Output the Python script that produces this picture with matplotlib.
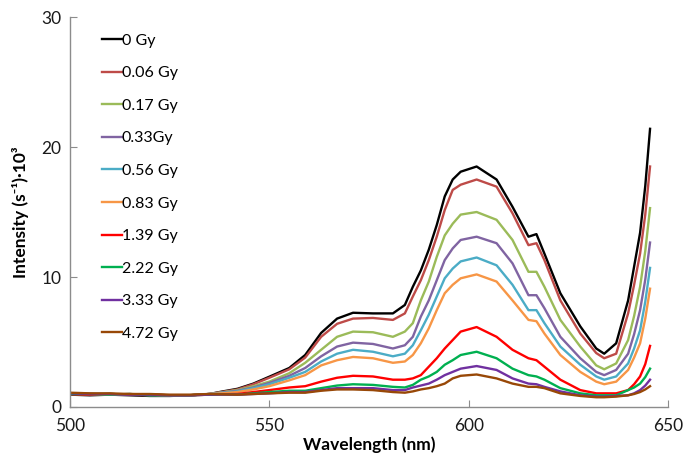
import matplotlib
matplotlib.use("Agg")
import matplotlib.pyplot as plt

plt.rcParams['font.family'] = ['Lato', 'DejaVu Sans']

wavelength = [500, 505, 510, 515, 520, 525, 530, 535, 538, 542, 546, 550, 555, 559, 563, 567, 571,
              576, 581, 584, 586, 588, 590, 592, 594, 596, 598, 602, 607, 611, 615, 617, 619, 623,
              628, 632, 634, 637, 640, 641.5, 643, 644.3, 645.5]

dose_labels = ['0 Gy', '0.06 Gy', '0.17 Gy', '0.33Gy', '0.56 Gy', '0.83 Gy',
               '1.39 Gy', '2.22 Gy', '3.33 Gy', '4.72 Gy']

i_0 = [0.95, 0.9, 0.95, 0.9, 0.85, 0.85, 0.9, 1.0, 1.18, 1.4, 1.8, 2.33, 3.0, 4.0, 5.7, 6.8, 7.25,
       7.2, 7.2, 7.85, 9.25, 10.5, 12.1, 14.0, 16.2, 17.5, 18.1, 18.5, 17.5, 15.4, 13.1, 13.3, 11.8, 8.75,
       6.2, 4.5, 4.1, 4.9, 8.2, 10.8, 13.4, 17.0, 21.4]
i_006 = [1.0, 0.95, 1.0, 0.95, 0.9, 0.9, 0.9, 1.0, 1.15, 1.35, 1.75, 2.25, 2.9, 3.8, 5.4, 6.4, 6.8,
         6.85, 6.7, 7.2, 8.5, 9.75, 11.3, 13.1, 15.15, 16.7, 17.1, 17.5, 16.95, 14.9, 12.45, 12.6, 11.3, 8.2,
         5.65, 4.15, 3.75, 4.1, 7.2, 9.4, 11.8, 14.8, 18.5]
i_017 = [1.05, 1.0, 1.0, 0.95, 0.95, 0.9, 0.9, 1.0, 1.12, 1.3, 1.6, 1.95, 2.6, 3.4, 4.4, 5.4, 5.8,
         5.75, 5.4, 5.8, 6.45, 8.2, 9.65, 11.55, 13.2, 14.1, 14.8, 15.0, 14.4, 12.85, 10.4, 10.4, 9.25, 6.7,
         4.65, 3.2, 2.9, 3.35, 5.15, 7.0, 9.25, 12.0, 15.3]
i_033 = [1.0, 1.0, 0.95, 1.0, 0.9, 0.9, 0.9, 1.0, 1.1, 1.25, 1.5, 1.85, 2.4, 3.0, 3.9, 4.65, 4.95,
         4.85, 4.5, 4.75, 5.4, 6.95, 8.2, 9.75, 11.3, 12.2, 12.85, 13.1, 12.6, 11.05, 8.6, 8.6, 7.6, 5.4,
         3.75, 2.7, 2.45, 2.85, 4.1, 5.6, 7.45, 9.8, 12.65]
i_056 = [1.05, 1.0, 1.0, 0.95, 0.95, 0.9, 0.9, 1.0, 1.08, 1.2, 1.45, 1.75, 2.25, 2.7, 3.5, 4.1, 4.4,
         4.25, 3.9, 4.1, 4.75, 5.9, 7.1, 8.5, 9.9, 10.65, 11.2, 11.5, 10.9, 9.4, 7.45, 7.45, 6.45, 4.65,
         3.25, 2.35, 2.1, 2.35, 3.35, 4.5, 5.9, 8.1, 10.7]
i_083 = [1.0, 1.0, 0.95, 1.0, 0.95, 0.9, 0.9, 1.0, 1.05, 1.15, 1.35, 1.6, 2.05, 2.45, 3.2, 3.6, 3.85,
         3.75, 3.4, 3.5, 4.0, 4.9, 6.05, 7.45, 8.75, 9.4, 9.9, 10.2, 9.65, 8.2, 6.7, 6.6, 5.65, 4.0,
         2.7, 1.95, 1.75, 1.95, 2.85, 3.8, 4.9, 6.8, 9.1]
i_139 = [1.0, 0.95, 1.0, 0.95, 0.95, 0.9, 0.9, 0.95, 0.98, 1.0, 1.15, 1.3, 1.5, 1.6, 1.95, 2.25, 2.4,
         2.35, 2.1, 2.1, 2.2, 2.45, 3.1, 3.75, 4.5, 5.15, 5.8, 6.15, 5.4, 4.4, 3.75, 3.6, 3.1, 2.1,
         1.3, 1.05, 1.05, 1.05, 1.3, 1.75, 2.35, 3.3, 4.7]
i_222 = [1.0, 1.0, 0.95, 1.0, 0.9, 0.9, 0.9, 0.95, 0.97, 0.95, 1.05, 1.15, 1.25, 1.25, 1.45, 1.65, 1.75,
         1.7, 1.55, 1.5, 1.7, 2.1, 2.35, 2.7, 3.25, 3.6, 4.0, 4.25, 3.75, 2.95, 2.45, 2.35, 2.1, 1.45,
         1.05, 0.9, 0.9, 0.9, 1.3, 1.5, 1.8, 2.3, 2.95]
i_333 = [1.05, 1.0, 1.0, 0.95, 0.95, 0.9, 0.9, 0.95, 0.96, 0.95, 1.0, 1.05, 1.15, 1.15, 1.3, 1.45, 1.45,
         1.45, 1.3, 1.3, 1.5, 1.65, 1.8, 2.1, 2.45, 2.7, 2.95, 3.15, 2.85, 2.2, 1.8, 1.75, 1.55, 1.2,
         0.9, 0.8, 0.8, 0.85, 0.9, 1.05, 1.3, 1.65, 2.1]
i_472 = [1.1, 1.05, 1.05, 1.0, 1.0, 0.95, 0.95, 1.0, 0.98, 0.95, 1.0, 1.05, 1.1, 1.1, 1.25, 1.35, 1.35,
         1.3, 1.15, 1.1, 1.2, 1.35, 1.45, 1.6, 1.8, 2.2, 2.4, 2.5, 2.2, 1.8, 1.55, 1.55, 1.45, 1.05,
         0.85, 0.75, 0.75, 0.8, 0.9, 1.0, 1.15, 1.35, 1.6]

series = [i_0, i_006, i_017, i_033, i_056, i_083, i_139, i_222, i_333, i_472]
colors = ['#000000', '#BE4B48', '#9BBB59', '#8064A2', '#4BACC6', '#F79646',
          '#FF0000', '#00B050', '#7030A0', '#984807']

fig = plt.figure(figsize=(6.84, 4.55), dpi=100)
ax = fig.add_axes([0.1023, 0.1055, 0.8743, 0.8571])

for vals, lab, c in zip(series, dose_labels, colors):
    ax.plot(wavelength, vals, color=c, lw=1.7, label=lab)

ax.set_xlim(500, 650)
ax.set_ylim(0, 30)
ax.set_xticks([500, 550, 600, 650])
ax.set_yticks([0, 10, 20, 30])
for s in ['top', 'right']:
    ax.spines[s].set_visible(False)
for s in ['left', 'bottom']:
    ax.spines[s].set_color('#8C8C8C')
    ax.spines[s].set_linewidth(1.0)
ax.tick_params(axis='both', direction='in', length=5, color='#8C8C8C', labelsize=12.5,
               labelcolor='#1a1a1a')
ax.tick_params(axis='x', pad=8)
ax.tick_params(axis='y', pad=6)

ax.set_xlabel('Wavelength (nm)', fontsize=12.5, fontweight='bold', labelpad=2)
ax.set_ylabel('Intensity (s⁻¹)·10³', fontsize=12.5, fontweight='bold', labelpad=9)

leg = ax.legend(loc='upper left', bbox_to_anchor=(0.1485, 0.926), bbox_transform=fig.transFigure,
                frameon=False, fontsize=11.5, handlelength=1.25, handletextpad=0.0,
                labelspacing=1.15, borderaxespad=0, borderpad=0)

fig.savefig('out.png', dpi=100)
